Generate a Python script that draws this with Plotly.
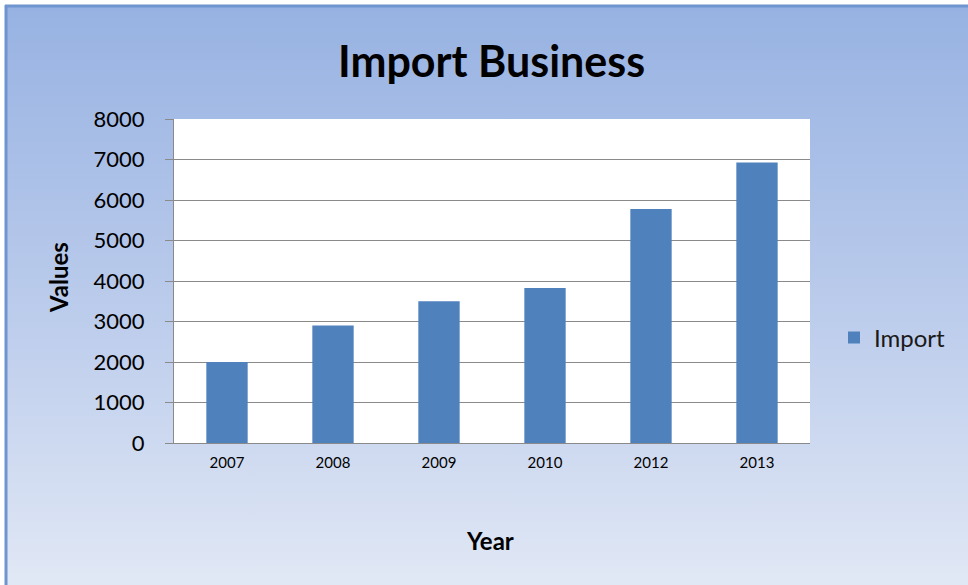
"""Import Business bar chart."""

import base64

import plotly.graph_objects as go

YEARS = ['2007', '2008', '2009', '2010', '2012', '2013']
IMPORT_VALUES = [2000, 2900, 3500, 3830, 5775, 6925]
Y_TICKS = [0, 1000, 2000, 3000, 4000, 5000, 6000, 7000, 8000]

W, H = 968, 585
M = dict(l=174, r=158, t=119, b=142)
PW = W - M['l'] - M['r']
PH = H - M['t'] - M['b']

FONT = 'Lato, Open Sans, sans-serif'
BAR_COLOR = '#4F81BD'
GRID = '#8A8A8A'


def px_x(p):
    return (p - M['l']) / PW


def px_y(p):
    return (H - M['b'] - p) / PH


# vertical gradient for the chart background
svg = (
    '<svg xmlns="http://www.w3.org/2000/svg" width="100" height="100" preserveAspectRatio="none">'
    '<defs><linearGradient id="g" x1="0" y1="0" x2="0" y2="1">'
    '<stop offset="0" stop-color="#97B2E2"/>'
    '<stop offset="0.55" stop-color="#BDCDEC"/>'
    '<stop offset="1" stop-color="#E1E8F5"/>'
    '</linearGradient></defs>'
    '<rect width="100" height="100" fill="url(#g)"/></svg>'
)
bg_src = 'data:image/svg+xml;base64,' + base64.b64encode(svg.encode()).decode()

fig = go.Figure()
fig.add_trace(go.Bar(
    x=YEARS,
    y=IMPORT_VALUES,
    name='Import',
    marker_color=BAR_COLOR,
    marker_line_width=0,
))


def label(text, x, y, size, angle=0):
    return dict(text=text, xref='paper', yref='paper', x=px_x(x), y=px_y(y),
                xanchor='center', yanchor='middle', showarrow=False, textangle=angle,
                font=dict(size=size, family=FONT, color='black'))


fig.update_layout(
    width=W,
    height=H,
    margin=M,
    paper_bgcolor='white',
    plot_bgcolor='white',
    bargap=0.61,
    font=dict(family=FONT, color='black'),
    showlegend=True,
    legend=dict(
        x=px_x(834), y=px_y(338), xanchor='left', yanchor='middle',
        bgcolor='rgba(0,0,0,0)', font=dict(size=24, family=FONT, color='#1a1a1a'),
        itemwidth=30,
    ),
    images=[dict(
        source=bg_src, xref='paper', yref='paper',
        x=px_x(6), y=px_y(6), sizex=(W - 6) / PW, sizey=(H - 6) / PH,
        xanchor='left', yanchor='top', sizing='stretch', layer='below',
    )],
    shapes=[
        dict(type='rect', xref='x domain', yref='y domain', x0=0, x1=1, y0=0, y1=1,
             fillcolor='white', line_width=0, layer='below'),
        dict(type='line', xref='paper', yref='paper', x0=px_x(6), x1=px_x(6),
             y0=px_y(5), y1=px_y(H + 5), line=dict(color='#6F94CF', width=3)),
        dict(type='line', xref='paper', yref='paper', x0=px_x(5), x1=px_x(W + 5),
             y0=px_y(6), y1=px_y(6), line=dict(color='#6F94CF', width=3)),
    ],
    annotations=[
        label('<b>Import Business</b>', 491, 60, 43),
        label('<b>Year</b>', 490, 540, 24),
        label('<b>Values</b>', 58, 278, 24, angle=-90),
    ],
)

fig.update_xaxes(
    showline=True, linecolor=GRID, linewidth=1,
    tickfont=dict(size=15, family=FONT, color='black'),
    ticks='', ticklabelstandoff=6,
)
fig.update_yaxes(
    range=[0, 8000], tickvals=Y_TICKS,
    showgrid=True, gridcolor=GRID, gridwidth=1,
    showline=True, linecolor=GRID, linewidth=1,
    ticks='outside', ticklen=8, tickcolor=GRID,
    tickfont=dict(size=22, family=FONT, color='black'),
    ticklabelstandoff=16,
    zeroline=False,
)

fig.write_html('out.html', config={'displayModeBar': False},
               post_script="document.body.style.margin='0';")
